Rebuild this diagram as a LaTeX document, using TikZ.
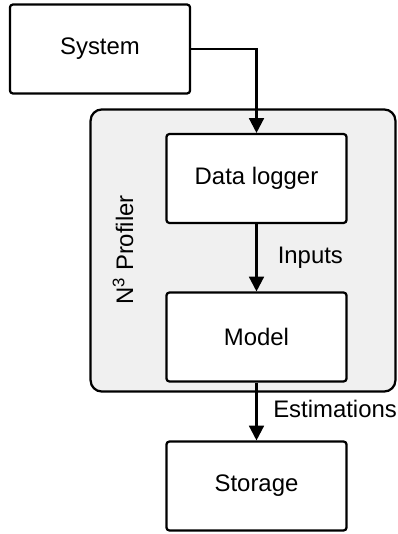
\documentclass[tikz,border=0pt]{standalone}
\usepackage{fontspec}
\setmainfont{Liberation Sans}
\setsansfont{Liberation Sans}
\usepackage{xcolor}
\usetikzlibrary{shapes}
\usetikzlibrary{arrows.meta}
\tikzstyle{every picture}+=[font=\sffamily\fontsize{17}{20}\selectfont]
\tikzstyle{block}=[draw, line width=1.6pt, rounded corners=2pt, fill=white,
  minimum width=4.5cm, minimum height=2.22cm, inner sep=0pt]
\tikzstyle{container}=[draw, line width=1.6pt, rounded corners=8pt, fill=profilergrau,
  minimum width=7.62cm, minimum height=7.05cm, inner sep=0pt]
\tikzstyle{arr}=[line width=1.6pt, -{Triangle[length=10.5pt,width=10.5pt]}]

\begin{document}
\begin{tikzpicture}[x=0.025cm, y=-0.025cm]

\definecolor{profilergrau}{HTML}{F0F0F0}
%%
\useasboundingbox (0,0) rectangle (398,534);

\node[container] (profiler) at (243,250.5) {};
\node[rotate=90] (profilerlabel) at (123,250) {N\textsuperscript{3} Profiler};

\node[block] (system)  at (100,49)    {System};
\node[block] (logger)  at (256.5,178.5) {Data logger};
\node[block] (model)   at (256.5,337)   {Model};
\node[block] (storage) at (256.5,486)   {Storage};

%%
\draw[arr] (system.east) -| (logger.north);
\draw[arr] (logger) -- node[right=11pt] (inputs) {Inputs} (model);
\draw[arr] (model) -- (storage);
\node[anchor=west, inner sep=0pt] (estimations) at (273,409) {Estimations};

\end{tikzpicture}
\end{document}
